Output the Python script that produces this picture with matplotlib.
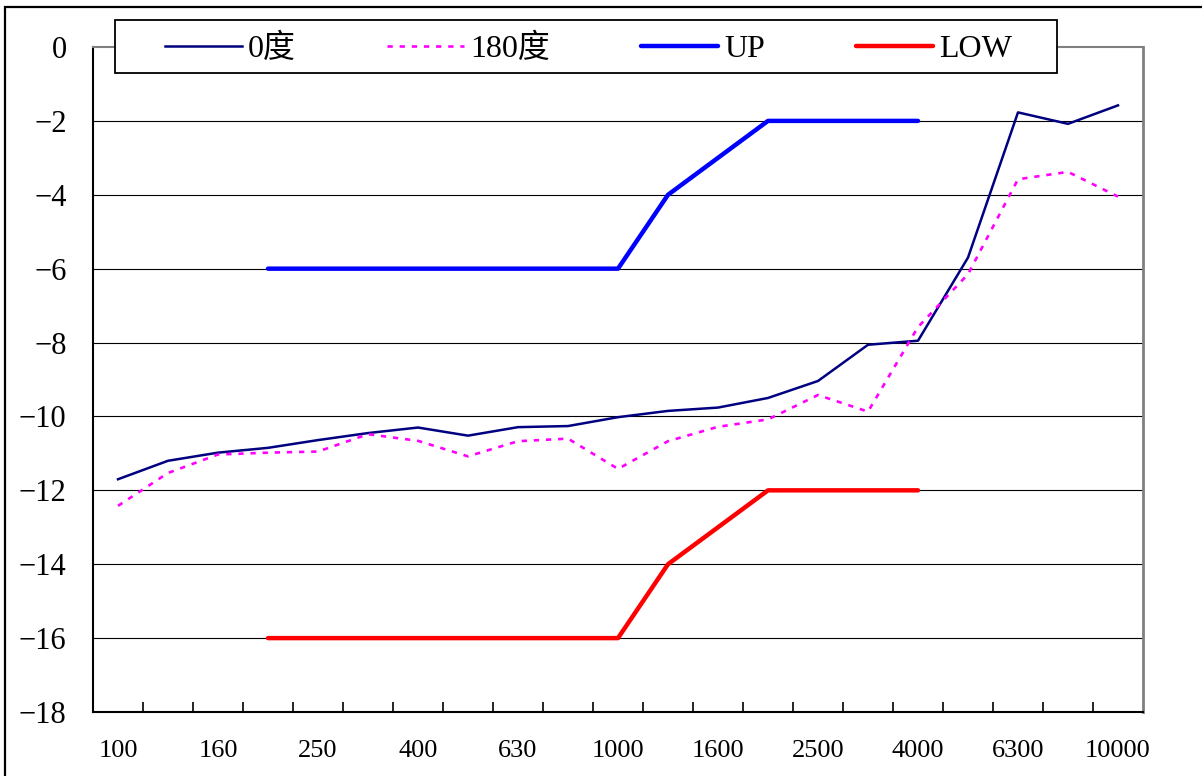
import numpy as np
import matplotlib
matplotlib.use("Agg")
import matplotlib.pyplot as plt
from matplotlib.font_manager import FontProperties
from matplotlib.patches import Rectangle

freqs = ["100", "125", "160", "200", "250", "315", "400", "500", "630", "800", "1000",
         "1250", "1600", "2000", "2500", "3150", "4000", "5000", "6300", "8000", "10000"]
deg0 = [-11.7, -11.2, -10.98, -10.85, -10.64, -10.45, -10.3, -10.52, -10.29, -10.26, -10.02,
        -9.85, -9.76, -9.5, -9.04, -8.06, -7.95, -5.7, -1.77, -2.08, -1.58]
deg180 = [-12.42, -11.53, -11.03, -10.98, -10.95, -10.48, -10.66, -11.08, -10.67, -10.6, -11.42,
          -10.67, -10.28, -10.08, -9.42, -9.87, -7.58, -6.15, -3.58, -3.38, -4.05]
up_freqs = ["200", "250", "315", "400", "500", "630", "800", "1000", "1250", "1600", "2000", "2500", "3150", "4000"]
up_vals = [-6, -6, -6, -6, -6, -6, -6, -6, -4, -3, -2, -2, -2, -2]
low_vals = [-16, -16, -16, -16, -16, -16, -16, -16, -14, -13, -12, -12, -12, -12]
label_freqs = ["100", "160", "250", "400", "630", "1000", "1600", "2500", "4000", "6300", "10000"]
y_ticks = [0, -2, -4, -6, -8, -10, -12, -14, -16, -18]
legend_labels = ["0度", "180度", "UP", "LOW"]

W, H = 1202, 776
fig = plt.figure(figsize=(W / 100, H / 100), dpi=100)
ax = fig.add_axes([93 / W, 1 - 712 / H, 1050 / W, 665 / H])

x = np.arange(len(freqs))
xi = {f: i for i, f in enumerate(freqs)}
ux = [xi[f] for f in up_freqs]

l0, = ax.plot(x, deg0, color="#000080", lw=1.8, label=legend_labels[0])
l1, = ax.plot(x, deg180, color="#FF00FF", lw=1.9, linestyle=(0, (2.0, 2.6)), label=legend_labels[1])
l2, = ax.plot(ux, up_vals, color="#0000FF", lw=3.2, solid_capstyle="round", label=legend_labels[2])
l3, = ax.plot(ux, low_vals, color="#FF0000", lw=3.2, solid_capstyle="round", label=legend_labels[3])

ax.set_xlim(-0.5, len(freqs) - 0.5)
ax.set_ylim(-18, 0)

for yv in y_ticks:
    if -18 < yv < 0:
        ax.axhline(yv, color="black", lw=0.8, zorder=0)

serif = FontProperties(family=["Liberation Serif", "Noto Sans CJK SC"], size=23)

ax.set_yticks(y_ticks)
ax.set_yticklabels([str(v).replace("-", "\u2212") for v in y_ticks])
for t in ax.get_yticklabels():
    t.set_fontproperties(FontProperties(family="Liberation Serif", size=22))
ax.tick_params(axis="y", length=0, pad=19)

ax.set_xticks(np.arange(0.5, len(freqs) - 1, 1))
ax.set_xticklabels([])
ax.tick_params(axis="x", which="major", direction="in", length=7, width=1.2, color="black")
ax.set_xticks([xi[f] for f in label_freqs], minor=True)
ax.set_xticklabels(label_freqs, minor=True)
for t in ax.get_xticklabels(minor=True):
    t.set_fontproperties(FontProperties(family="Liberation Serif", size=19))
ax.tick_params(axis="x", which="minor", length=0, pad=20)

ax.spines["left"].set_color("black")
ax.spines["bottom"].set_color("black")
ax.spines["left"].set_linewidth(1.5)
ax.spines["bottom"].set_linewidth(1.5)
ax.spines["top"].set_color("#808080")
ax.spines["right"].set_color("#808080")
ax.spines["top"].set_linewidth(1.5)
ax.spines["right"].set_linewidth(2)

# legend box frame
frame = Rectangle((115 / W, 1 - 73 / H), 942 / W, 53 / H, transform=fig.transFigure,
                  facecolor="white", edgecolor="black", lw=1.3, zorder=4, clip_on=False)
ax.add_patch(frame)

leg = ax.legend(handles=[l0, l1, l2, l3], loc="center left", ncol=4, mode="expand",
                bbox_to_anchor=(165 / W, 1 - 49 / H, 847 / W, 0.0),
                bbox_transform=fig.transFigure, prop=serif, frameon=False,
                handlelength=2.4, handletextpad=0.2, borderpad=0, borderaxespad=0)
leg.set_zorder(5)

border = Rectangle((5 / W, -0.1), 1.2, 1.1 - 7 / H, transform=fig.transFigure,
                   fill=False, edgecolor="black", lw=1.6)
fig.patches.append(border)

fig.savefig("out.png", dpi=100)
